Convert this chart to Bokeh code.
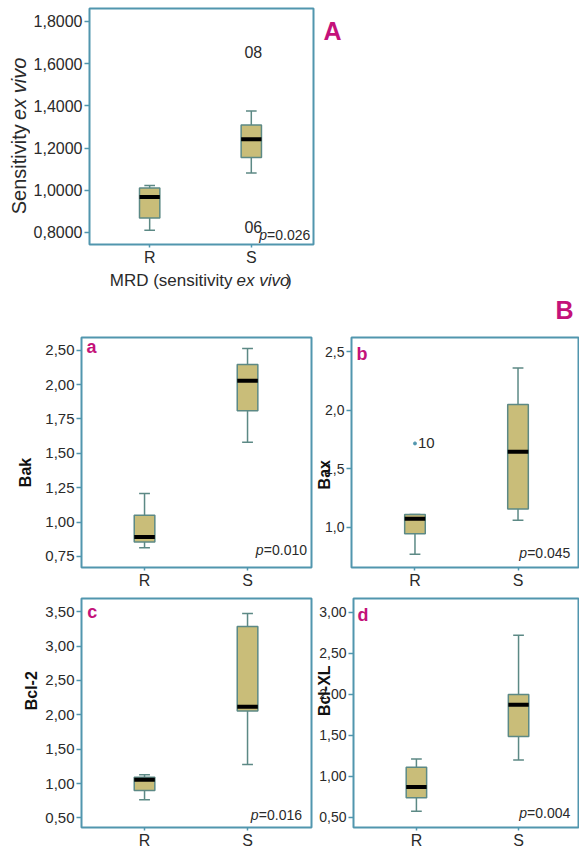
import numpy as np
from bokeh.plotting import figure
from bokeh.models import ColumnDataSource, Label, Range1d, FixedTicker
from bokeh.layouts import column, row
from bokeh.embed import file_html
from bokeh.resources import INLINE
from bokeh.core.properties import value

# ---------------- data ----------------
categories = ["R", "S"]

# A: Sensitivity ex vivo
A_low = [0.811, 1.082]
A_q1 = [0.869, 1.155]
A_med = [0.968, 1.242]
A_q3 = [1.011, 1.309]
A_high = [1.022, 1.375]
A_yticks = [0.8, 1.0, 1.2, 1.4, 1.6, 1.8]
A_ylabels = ["0,8000", "1,0000", "1,2000", "1,4000", "1,6000", "1,8000"]
A_case_group = ["S", "S"]
A_case_value = [1.654, 0.824]
A_case_label = ["08", "06"]
A_p = "=0.026"

# a: Bak
a_low = [0.813, 1.580]
a_q1 = [0.856, 1.809]
a_med = [0.892, 2.028]
a_q3 = [1.049, 2.146]
a_high = [1.208, 2.262]
a_yticks = [0.75, 1.00, 1.25, 1.50, 1.75, 2.00, 2.25]
a_ylabels = ["0,75", "1,00", "1,25", "1,50", "1,75", "2,00", "2,50"]
a_p = "=0.010"

# b: Bax
b_low = [0.768, 1.059]
b_q1 = [0.943, 1.156]
b_med = [1.071, 1.645]
b_q3 = [1.108, 2.050]
b_high = [1.108, 2.361]
b_yticks = [1.0, 1.5, 2.0, 2.5]
b_ylabels = ["1,0", "1,5", "2,0", "2,5"]
b_case_group = ["R"]
b_case_value = [1.716]
b_case_label = ["10"]
b_p = "=0.045"

# c: Bcl-2
c_low = [0.765, 1.275]
c_q1 = [0.900, 2.055]
c_med = [1.054, 2.118]
c_q3 = [1.092, 3.283]
c_high = [1.126, 3.475]
c_yticks = [0.5, 1.0, 1.5, 2.0, 2.5, 3.0, 3.5]
c_ylabels = ["0,50", "1,00", "1,50", "2,00", "2,50", "3,00", "3,50"]
c_p = "=0.016"

# d: Bcl-XL
d_low = [0.573, 1.199]
d_q1 = [0.738, 1.485]
d_med = [0.868, 1.873]
d_q3 = [1.110, 1.998]
d_high = [1.211, 2.721]
d_yticks = [0.5, 1.0, 1.5, 2.0, 2.5, 3.0]
d_ylabels = ["0,50", "1,00", "1,50", "2,00", "2,50", "3,00"]
d_p = "=0.004"

# ---------------- style ----------------
FONT = "Liberation Sans"
FRAME = "#5196AE"
BOX_LINE = "#5C8985"
BOX_FILL = "#C9BD79"
MAGENTA = "#C4127A"
TEXT = "#2a2a2a"
NB = "\u00a0"

positions = [i + 1 for i in range(len(categories))]
pos_of = dict(zip(categories, positions))


def make_canvas(W, H):
    p = figure(width=W, height=H, x_range=Range1d(0, W), y_range=Range1d(H, 0),
               x_axis_type=None, y_axis_type=None, output_backend="svg",
               toolbar_location=None, title=None,
               min_border_left=0, min_border_right=0, min_border_top=0, min_border_bottom=0)
    p.outline_line_color = None
    p.background_fill_color = "white"
    p.border_fill_color = "white"
    return p


def make_panel(W, H, bl, br, bt, bb, xr, yr, yticks, ylabels, ytick_size,
               ytitle=None, title_standoff=0):
    p = figure(width=W, height=H, x_range=Range1d(*xr), y_range=Range1d(*yr),
               output_backend="svg", toolbar_location=None, title=None,
               min_border_left=bl, min_border_right=br,
               min_border_top=bt, min_border_bottom=bb)
    p.grid.visible = False
    p.outline_line_color = FRAME
    p.outline_line_width = 2
    p.background_fill_color = "white"
    p.border_fill_color = "white"
    xa = p.xaxis[0]
    ya = p.yaxis[0]
    xa.ticker = FixedTicker(ticks=positions)
    xa.major_label_overrides = {k: v for k, v in zip(positions, categories)}
    ya.ticker = FixedTicker(ticks=yticks)
    ya.major_label_overrides = {k: v for k, v in zip(yticks, ylabels)}
    for ax in (xa, ya):
        ax.axis_line_color = None
        ax.major_tick_line_color = FRAME
        ax.major_tick_line_width = 1.5
        ax.major_tick_in = 0
        ax.minor_tick_line_color = None
        ax.major_label_text_font = FONT
        ax.major_label_text_color = TEXT
    xa.major_tick_out = 3
    xa.major_label_text_font_size = "16px"
    xa.major_label_standoff = 1
    ya.major_tick_out = 5
    ya.major_label_text_font_size = ytick_size
    ya.major_label_standoff = 2
    if ytitle is not None:
        ya.axis_label = ytitle
        ya.axis_label_standoff = title_standoff
        ya.axis_label_text_font = FONT
        ya.axis_label_text_font_size = "16px"
        ya.axis_label_text_font_style = "bold"
        ya.axis_label_text_color = "#111111"
    p._fw = W - bl - br
    p._fh = H - bt - bb
    return p


def draw_box(p, low, q1, med, q3, high, box_w=0.2, cap_w=0.105):
    x = np.array(positions, dtype=float)
    src = ColumnDataSource(dict(x=x, low=low, q1=q1, med=med, q3=q3, high=high,
                                bl=x - box_w / 2, br=x + box_w / 2,
                                cl=x - cap_w / 2, cr=x + cap_w / 2))
    kw = dict(source=src, line_color=BOX_LINE, line_width=1.5)
    p.segment(x0="x", y0="q3", x1="x", y1="high", **kw)
    p.segment(x0="x", y0="q1", x1="x", y1="low", **kw)
    p.segment(x0="cl", y0="high", x1="cr", y1="high", **kw)
    p.segment(x0="cl", y0="low", x1="cr", y1="low", **kw)
    p.vbar(x="x", width=box_w, bottom="q1", top="q3", source=src,
           fill_color=BOX_FILL, line_color=BOX_LINE, line_width=1.5)
    p.segment(x0="bl", y0="med", x1="br", y1="med", source=src,
              line_color="black", line_width=4, line_cap="butt")


def place(p, dx, dy, right=False, bottom=False):
    W, H = p._fw, p._fh
    px = (W + dx) if right else dx
    py = (H + dy) if bottom else dy
    xr, yr = p.x_range, p.y_range
    x = xr.start + px / W * (xr.end - xr.start)
    y = yr.end - py / H * (yr.end - yr.start)
    return x, y


def add_label(p, text, dx, dy, right=False, bottom=False, **kw):
    x, y = place(p, dx, dy, right, bottom)
    p.add_layout(Label(x=x, y=y, text=text, text_baseline="middle", **kw))


def add_pvalue(p, pval, dx, dy):
    add_label(p, "p", dx, dy, right=True, bottom=True, text_font=FONT, text_font_size="14px",
              text_font_style="italic", text_color=TEXT, text_align="left")
    add_label(p, pval, dx + 8, dy, right=True, bottom=True, text_font=FONT,
              text_font_size="14px", text_color=TEXT, text_align="left")


def add_letter(p, text, dx, dy):
    add_label(p, text, dx, dy, text_font=FONT, text_font_size="18px",
              text_font_style="bold", text_color=MAGENTA, text_align="left")


def add_cases(p, groups, vals, labels, size, xoff, align, marker=False):
    src = ColumnDataSource(dict(x=[pos_of[g] for g in groups], y=vals, t=labels))
    if marker:
        p.scatter(x="x", y="y", source=src, size=3, color=FRAME)
    p.text(x="x", y="y", text="t", source=src, x_offset=xoff, text_align=align,
           text_baseline="middle", text_font=value(FONT), text_font_size=size,
           text_color=TEXT)


def canvas_label(p, text, x, y, size, style="normal", color=TEXT, align="left", angle=0.0):
    p.add_layout(Label(x=x, y=y, text=text, angle=angle, text_font=FONT,
                       text_font_size=size, text_font_style=style, text_color=color,
                       text_align=align, text_baseline="middle"))


# ---------------- top block: panel A ----------------
ytA = make_canvas(30, 268)
canvas_label(ytA, "Sensitivity", 18.5, 131.5, "20px", align="right", angle=np.pi / 2)
canvas_label(ytA, "ex vivo", 18.5, 126.5, "20px", style="italic", align="left", angle=np.pi / 2)

pA = make_panel(285, 268, 56, 2, 8, 23, (0.408, 2.612), (0.743, 1.861),
                A_yticks, A_ylabels, "16px")
draw_box(pA, A_low, A_q1, A_med, A_q3, A_high)
add_cases(pA, A_case_group, A_case_value, A_case_label, "16px", 2, "center")
add_pvalue(pA, A_p, -55, -10)

letA = make_canvas(264, 268)
canvas_label(letA, "A", 8, 26, "25px", style="bold", color=MAGENTA)

xtA = make_canvas(579, 24)
canvas_label(xtA, "MRD (sensitivity", 232, 12, "17px", align="right")
canvas_label(xtA, "ex vivo", 236, 12, "17px", style="italic")
canvas_label(xtA, ")", 285.5, 12, "17px")

# ---------------- strip with "B" ----------------
stripB = make_canvas(579, 33)
canvas_label(stripB, "B", 573, 17, "25px", style="bold", color=MAGENTA, align="right")

# ---------------- panel a ----------------
pa = make_panel(313, 266, 81, 2, 12, 23, (0.388, 2.621), (0.670, 2.342),
                a_yticks, a_ylabels, "15px", ytitle="Bak" + NB * 9, title_standoff=8)
draw_box(pa, a_low, a_q1, a_med, a_q3, a_high)
add_letter(pa, "a", 5, 9.6)
add_pvalue(pa, a_p, -55.7, -17.3)

# ---------------- panel b ----------------
pb = make_panel(266, 266, 35, 1, 12, 23, (0.384, 2.587), (0.655, 2.622),
                b_yticks, b_ylabels, "14px", ytitle="Bax" + NB * 10, title_standoff=-11)
draw_box(pb, b_low, b_q1, b_med, b_q3, b_high)
add_cases(pb, b_case_group, b_case_value, b_case_label, "15px", 3, "left", marker=True)
add_letter(pb, "b", 5, 16.9)
add_pvalue(pb, b_p, -60, -15)

# ---------------- panel c ----------------
pc = make_panel(313, 260, 81, 2, 7, 22, (0.388, 2.621), (0.360, 3.692),
                c_yticks, c_ylabels, "15px", ytitle=NB * 10 + "Bcl-2", title_standoff=2)
draw_box(pc, c_low, c_q1, c_med, c_q3, c_high)
add_letter(pc, "c", 5.7, 13.6)
add_pvalue(pc, c_p, -60.7, -12.3)

# ---------------- panel d ----------------
pd_ = make_panel(266, 260, 35, 1, 7, 22, (0.384, 2.587), (0.375, 3.170),
                 d_yticks, d_ylabels, "14px", ytitle=NB * 10 + "Bcl-XL", title_standoff=-17)
draw_box(pd_, d_low, d_q1, d_med, d_q3, d_high)
add_letter(pd_, "d", 4, 17)
add_pvalue(pd_, d_p, -60.6, -14.3)

layout = column(row(ytA, pA, letA), xtA, stripB, row(pa, pb), row(pc, pd_))

with open("out.html", "w") as f:
    f.write(file_html(layout, INLINE))
